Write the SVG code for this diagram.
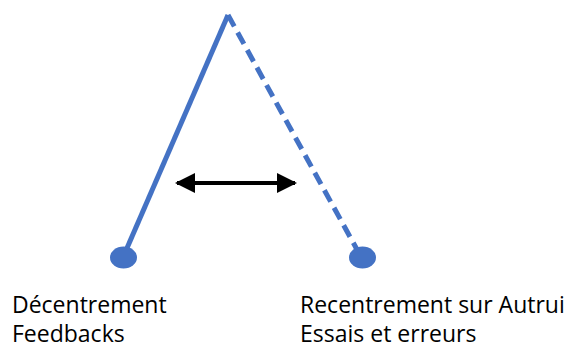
<svg xmlns="http://www.w3.org/2000/svg" width="571" height="349" viewBox="0 0 571 349">
<style>
.leg{stroke:#4472C4;stroke-width:5;fill:none}
.dot{fill:#4472C4}
.lbl{font-family:"Open Sans","Liberation Sans",sans-serif;font-size:23px;fill:#000}
</style>
<defs>
<marker id="ah" viewBox="0 0 10 10" refX="9" refY="5" markerWidth="5" markerHeight="5.5" orient="auto-start-reverse" markerUnits="strokeWidth">
<path d="M0,0 L10,5 L0,10 Z" fill="#000"/>
</marker>
</defs>
<g id="connectors">
<line id="leg-left" class="leg" x1="228" y1="15" x2="124" y2="255"/>
<line id="leg-right" class="leg" x1="228" y1="15" x2="360" y2="255" stroke-dasharray="13,7"/>
<line id="double-arrow" x1="177" y1="183" x2="295" y2="183" stroke="#000" stroke-width="4" marker-start="url(#ah)" marker-end="url(#ah)"/>
</g>
<g id="node-left">
<ellipse class="dot" cx="123.5" cy="257.5" rx="13.5" ry="11"/>
<text class="lbl" x="12" y="313">Décentrement</text>
<text class="lbl" x="12" y="342">Feedbacks</text>
</g>
<g id="node-right">
<ellipse class="dot" cx="362.5" cy="257.5" rx="13.5" ry="11"/>
<text class="lbl" x="300" y="313">Recentrement sur Autrui</text>
<text class="lbl" x="300" y="342">Essais et erreurs</text>
</g>
</svg>
